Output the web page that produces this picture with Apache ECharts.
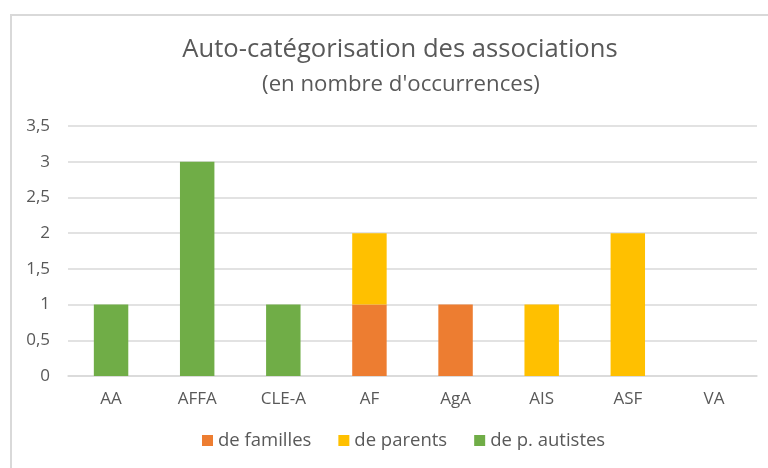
<!DOCTYPE html>
<html><head><meta charset="utf-8">
<script src="https://cdn.jsdelivr.net/npm/echarts@6/dist/echarts.min.js"></script>
<style>html,body{margin:0;padding:0;background:#fff}#c{width:768px;height:468px}</style>
</head><body><div id="c"></div>
<script>
const categories = ['AA','AFFA','CLE-A','AF','AgA','AIS','ASF','VA'];
const familles = [0,0,0,1,1,0,0,0];
const parents = [0,0,0,1,0,1,2,0];
const autistes = [1,3,1,0,0,0,0,0];
const yTicks = {min:0, max:3.5, interval:0.5};

const chart = echarts.init(document.getElementById('c'));
const font = '"Open Sans", sans-serif';
const nz = a => a.map(v => v === 0 ? null : v);
chart.setOption({
  animation:false,
  graphic:[{type:'rect', shape:{x:11,y:15,width:800,height:500}, style:{fill:'none', stroke:'#d9d9d9', lineWidth:2}, silent:true}],
  title:[
    {text:'Auto-catégorisation des associations', left:395, top:32, textAlign:'center', textStyle:{fontFamily:font, fontSize:25.6, fontWeight:'normal', color:'#595959'}},
    {text:"(en nombre d'occurrences)", left:396, top:69, textAlign:'center', textStyle:{fontFamily:font, fontSize:22.2, fontWeight:'normal', color:'#595959'}}
  ],
  legend:{bottom:13, left:197, itemWidth:11, itemHeight:11, itemGap:27, icon:'rect',
    textStyle:{fontFamily:font, fontSize:18.5, color:'#595959'},
    data:['de familles','de parents','de p. autistes']},
  grid:{left:68, right:11, top:126, bottom:92},
  xAxis:{type:'category', data:categories,
    axisLine:{lineStyle:{color:'#d9d9d9', width:1.5}}, axisTick:{show:false},
    axisLabel:{fontFamily:font, fontSize:17, color:'#595959', margin:15}},
  yAxis:{type:'value', min:yTicks.min, max:yTicks.max, interval:yTicks.interval,
    axisLine:{show:false}, axisTick:{show:false},
    splitLine:{lineStyle:{color:'#d9d9d9', width:1.5}},
    axisLabel:{fontFamily:font, fontSize:17, color:'#595959', margin:18, formatter:v=>String(v).replace('.',',')}},
  series:[
    {name:'de familles', type:'bar', stack:'s', data:nz(familles), itemStyle:{color:'#ED7D31'}, barWidth:'40%'},
    {name:'de parents', type:'bar', stack:'s', data:nz(parents), itemStyle:{color:'#FFC000'}, barWidth:'40%'},
    {name:'de p. autistes', type:'bar', stack:'s', data:nz(autistes), itemStyle:{color:'#70AD47'}, barWidth:'40%'}
  ]
});
</script></body></html>
